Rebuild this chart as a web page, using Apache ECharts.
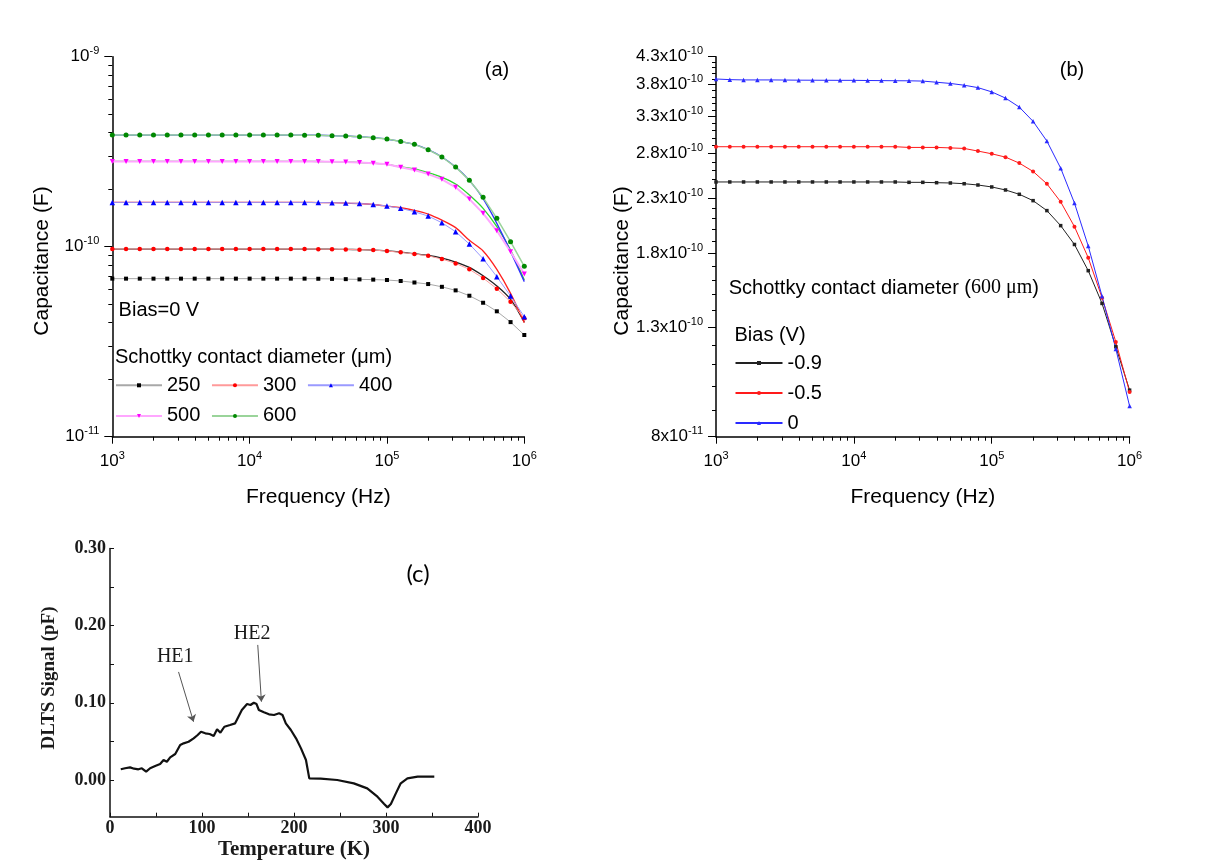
<!DOCTYPE html>
<html>
<head>
<meta charset="utf-8">
<title>Schottky capacitance and DLTS</title>
<script src="https://cdn.jsdelivr.net/npm/echarts@6/dist/echarts.min.js"></script>
<style>
  html, body { margin: 0; padding: 0; background: #fff; }
  #main { width: 1206px; height: 861px; }
</style>
</head>
<body>
<div id="main"></div>
<script>
// measurement frequencies (Hz), 10 points per decade
var freq = [1000, 1259, 1585, 1995, 2512, 3162, 3981, 5012, 6310, 7943,
  10000, 12589, 15849, 19953, 25119, 31623, 39811, 50119, 63096, 79433,
  100000, 125893, 158489, 199526, 251189, 316228, 398107, 501187, 630957, 794328, 1000000];

// panel (a), bias 0 V, capacitance in 1e-10 F, one list per contact diameter
var c250 = [0.679,0.679,0.679,0.679,0.679,0.679,0.679,0.679,0.679,0.679,
  0.679,0.679,0.679,0.679,0.679,0.678,0.677,0.675,0.673,0.671,
  0.668,0.660,0.648,0.636,0.615,0.589,0.552,0.507,0.457,0.401,0.343];
var c300 = [0.972,0.972,0.972,0.972,0.972,0.972,0.972,0.972,0.972,0.972,
  0.972,0.972,0.972,0.972,0.972,0.971,0.970,0.968,0.965,0.960,
  0.949,0.934,0.915,0.896,0.861,0.817,0.760,0.684,0.601,0.513,0.420];
var c400 = [1.711,1.711,1.711,1.711,1.711,1.711,1.711,1.711,1.711,1.711,
  1.711,1.711,1.711,1.711,1.710,1.708,1.704,1.698,1.688,1.668,
  1.637,1.592,1.528,1.450,1.337,1.199,1.033,0.864,0.695,0.550,0.428];
var c500 = [2.812,2.812,2.812,2.812,2.812,2.812,2.812,2.812,2.812,2.812,
  2.812,2.812,2.812,2.812,2.811,2.808,2.802,2.792,2.775,2.750,
  2.713,2.616,2.532,2.412,2.262,2.053,1.781,1.498,1.213,0.941,0.718];
var c600 = [3.870,3.870,3.870,3.870,3.870,3.870,3.870,3.870,3.870,3.870,
  3.870,3.870,3.870,3.870,3.865,3.860,3.840,3.825,3.790,3.750,
  3.687,3.580,3.456,3.240,2.965,2.626,2.235,1.819,1.410,1.062,0.788];

// fitted curves drawn over the points (1e-10 F)
var fitBlack = [0.972,0.972,0.972,0.972,0.972,0.972,0.972,0.972,0.972,0.972,
  0.972,0.972,0.972,0.972,0.972,0.971,0.970,0.968,0.965,0.960,
  0.950,0.936,0.918,0.899,0.871,0.830,0.778,0.703,0.621,0.528,0.400];
var fitRed = [1.711,1.711,1.711,1.711,1.711,1.711,1.711,1.711,1.711,1.711,
  1.711,1.711,1.711,1.711,1.710,1.708,1.704,1.698,1.688,1.668,
  1.637,1.603,1.553,1.486,1.380,1.260,1.080,0.950,0.760,0.568,0.398];
var fitGreen = [2.812,2.812,2.812,2.812,2.812,2.812,2.812,2.812,2.812,2.812,
  2.812,2.812,2.812,2.812,2.811,2.808,2.802,2.792,2.775,2.750,
  2.713,2.630,2.564,2.450,2.318,2.137,1.870,1.592,1.274,0.960,0.668];
var fitBlue = [3.870,3.870,3.870,3.870,3.870,3.870,3.870,3.870,3.870,3.870,
  3.870,3.870,3.870,3.870,3.865,3.860,3.840,3.825,3.790,3.750,
  3.687,3.580,3.456,3.240,2.965,2.626,2.235,1.790,1.327,0.942,0.655];

// panel (b), 600 um contact, capacitance in 1e-10 F per bias
var bM09 = [2.470,2.470,2.470,2.470,2.470,2.470,2.470,2.470,2.470,2.470,
  2.470,2.470,2.470,2.470,2.466,2.466,2.462,2.459,2.451,2.437,
  2.416,2.384,2.339,2.274,2.176,2.036,1.873,1.668,1.443,1.191,0.983];
var bM05 = [2.887,2.887,2.887,2.887,2.887,2.887,2.887,2.887,2.887,2.887,
  2.887,2.887,2.887,2.887,2.878,2.878,2.878,2.872,2.865,2.832,
  2.798,2.757,2.685,2.588,2.450,2.262,2.027,1.766,1.480,1.217,0.975];
var bZero = [3.896,3.885,3.880,3.880,3.880,3.878,3.876,3.875,3.874,3.873,
  3.873,3.870,3.868,3.866,3.865,3.860,3.840,3.820,3.790,3.750,
  3.680,3.580,3.440,3.230,2.960,2.626,2.250,1.860,1.490,1.180,0.916];

// panel (c), DLTS spectrum
var tempK = [11.7,16.4,21.8,26.2,30.9,34.6,39.3,43.6,49.1,54.5,58.2,61.8,65.4,70.9,76.3,80,85.4,90.9,
  95.3,98.9,103.6,108.3,112.7,116.4,120,124.3,130.5,136,139.6,143.3,149,152.7,156.3,159.3,161.8,
  167.3,172.8,178.3,183.8,187.5,191.1,196.6,202.2,207.6,213,216.6,229,247,265,279.6,290.7,298,
  301.7,305.3,310.7,316,323.3,334.4,352.5];
var dlts = [0.0139,0.0152,0.0164,0.0147,0.0139,0.0152,0.0108,0.0152,0.0181,0.0207,0.0259,0.0237,0.0294,
  0.0337,0.0453,0.0475,0.0496,0.054,0.0583,0.0626,0.0605,0.0596,0.057,0.0657,0.0613,0.069,0.0712,
  0.0734,0.082,0.0907,0.0984,0.0972,0.1001,0.0984,0.0907,0.0877,0.0851,0.0842,0.0864,0.0842,0.0734,
  0.0648,0.054,0.041,0.0259,0.0022,0.0017,0,-0.0043,-0.0108,-0.0216,-0.031,-0.0354,-0.031,-0.0173,
  -0.0043,0.0022,0.0043,0.0043];
var peakNames = ['HE1', 'HE2'];
var peakTextAt = [[70.9, 0.160], [154.5, 0.189]];
var peakArrows = [[[74.5, 0.140], [90.8, 0.0755]], [[160.6, 0.175], [164.6, 0.1015]]];

// tick labels
var freqTicks = [1e3, 1e4, 1e5, 1e6];
var capTicksA = [1e-11, 1e-10, 1e-9];
var capTicksB = [8e-11, 1.3e-10, 1.8e-10, 2.3e-10, 2.8e-10, 3.3e-10, 3.8e-10, 4.3e-10];
var tempTicks = [0, 100, 200, 300, 400];
var tempMinor = [0, 50, 100, 150, 200, 250, 300, 350, 400];
var dltsTicks = [0, 0.1, 0.2, 0.3];
var dltsMinor = [0, 0.05, 0.1, 0.15, 0.2, 0.25, 0.3];

var SANS = 'Liberation Sans';
var SERIF = 'Liberation Serif';

function lg(list) { return list.map(function (v) { return Math.log10(v); }); }

var freqMinor = [], capMinorA = [], capMinorB = [];
[1e3, 1e4, 1e5].forEach(function (d) { for (var k = 2; k <= 9; k++) freqMinor.push(k * d); });
[1e-11, 1e-10].forEach(function (d) { for (var k = 2; k <= 9; k++) capMinorA.push(k * d); });
for (var k = 8; k <= 43; k++) capMinorB.push(k * 1e-11);

var supRich = {
  b: { fontSize: 17, fontFamily: SANS, color: '#000', lineHeight: 22 },
  s: { fontSize: 11, fontFamily: SANS, color: '#000', verticalAlign: 'top', lineHeight: 11 }
};
function powLabel(v) {
  return '{b|10}{s|' + Math.round(v) + '}';
}
function sciLabel(v) {
  var e = Math.floor(v + 1e-9);
  var m = Math.round(Math.pow(10, v - e) * 10) / 10;
  return '{b|' + m + 'x10}{s|' + e + '}';
}

function pairs(xs, ys, scale) {
  return xs.map(function (x, i) { return [x, ys[i] * scale]; });
}

var blackLine = { color: '#000', width: 1 };

// three x axes / three y axes per log panel: the log axis carries the data,
// two log-space value axes carry major and minor ticks with labels
function logPanelAxes(grid, dim, lo, hi, major, minor, fmt, name) {
  var base = {
    type: 'log', gridIndex: grid, min: lo, max: hi, logBase: 10,
    axisLine: { onZero: false, lineStyle: { color: '#000', width: 1.5 } },
    axisTick: { show: false }, axisLabel: { show: false }, splitLine: { show: false }
  };
  if (dim === 'x') {
    base.position = 'bottom';
    base.name = name;
    base.nameLocation = 'middle';
    base.nameGap = 50;
    base.nameTextStyle = { fontFamily: SANS, fontSize: 21, color: '#000' };
  } else {
    base.position = 'left';
  }
  var pos = dim === 'x' ? 'bottom' : 'left';
  var majorAxis = {
    type: 'value', gridIndex: grid, position: pos, min: Math.log10(lo), max: Math.log10(hi),
    axisLine: { show: false, onZero: false },
    axisTick: { show: true, length: dim === 'x' ? 7 : 8, customValues: lg(major), lineStyle: blackLine },
    axisLabel: { customValues: lg(major), formatter: fmt, rich: supRich, margin: dim === 'x' ? 14 : 13 },
    splitLine: { show: false }
  };
  var minorAxis = {
    type: 'value', gridIndex: grid, position: pos, min: Math.log10(lo), max: Math.log10(hi),
    axisLine: { show: false, onZero: false },
    axisTick: { show: true, length: 4, customValues: lg(minor), lineStyle: blackLine },
    axisLabel: { show: false },
    splitLine: { show: false }
  };
  return [base, majorAxis, minorAxis];
}

var xAxes = []
  .concat(logPanelAxes(0, 'x', 1e3, 1e6, freqTicks, freqMinor, powLabel, 'Frequency (Hz)'))
  .concat(logPanelAxes(1, 'x', 1e3, 1e6, freqTicks, freqMinor, powLabel, 'Frequency (Hz)'));
var yAxes = []
  .concat(logPanelAxes(0, 'y', 1e-11, 1e-9, capTicksA, capMinorA, powLabel))
  .concat(logPanelAxes(1, 'y', 8e-11, 4.3e-10, capTicksB, capMinorB, sciLabel));

xAxes.push({
  type: 'value', gridIndex: 2, position: 'bottom', min: 0, max: 400,
  name: 'Temperature (K)', nameLocation: 'middle', nameGap: 18,
  nameTextStyle: { fontFamily: SERIF, fontSize: 21, fontWeight: 'bold', color: '#1a1a1a' },
  axisLine: { onZero: false, lineStyle: { color: '#111', width: 1.5 } },
  axisTick: { show: true, inside: true, length: 4, customValues: tempMinor, lineStyle: { color: '#111' } },
  axisLabel: { customValues: tempTicks, margin: 3, fontFamily: SERIF, fontSize: 18, fontWeight: 'bold', color: '#1a1a1a' },
  splitLine: { show: false }
});
yAxes.push({
  type: 'value', gridIndex: 2, position: 'left', min: -0.0475, max: 0.30,
  axisLine: { onZero: false, lineStyle: { color: '#111', width: 1.5 } },
  axisTick: { show: true, inside: true, length: 4, customValues: dltsMinor, lineStyle: { color: '#111' } },
  axisLabel: {
    customValues: dltsTicks, margin: 4, fontFamily: SERIF, fontSize: 18, fontWeight: 'bold', color: '#1a1a1a',
    formatter: function (v) { return v.toFixed(2); }
  },
  splitLine: { show: false }
});

var downTri = 'path://M0,0L10,0L5,9Z';

function dataSeries(name, vals, symbol, size, dot, line, lineWidth) {
  return {
    name: name, type: 'line', xAxisIndex: 0, yAxisIndex: 0,
    data: pairs(freq, vals, 1e-10),
    symbol: symbol, symbolSize: size, z: 3,
    itemStyle: { color: dot },
    lineStyle: { color: line, width: lineWidth }
  };
}
function fitSeries(name, vals, color) {
  return {
    name: name, type: 'line', xAxisIndex: 0, yAxisIndex: 0,
    data: pairs(freq, vals, 1e-10), symbol: 'none', smooth: 0.3, z: 2,
    lineStyle: { color: color, width: 1.3 }
  };
}
function biasSeries(name, vals, symbol, size, color) {
  return {
    name: name, type: 'line', xAxisIndex: 3, yAxisIndex: 3,
    data: pairs(freq, vals, 1e-10),
    symbol: symbol, symbolSize: size,
    itemStyle: { color: color },
    lineStyle: { color: color, width: 1 }
  };
}

var series = [
  fitSeries('fit black', fitBlack, '#222222'),
  fitSeries('fit red', fitRed, '#ff2020'),
  fitSeries('fit green', fitGreen, '#2ed82e'),
  fitSeries('fit blue', fitBlue, '#2f2fff'),
  dataSeries('250', c250, 'rect', 4, '#000000', '#a8a8a8', 1),
  dataSeries('300', c300, 'circle', 4.5, '#ff0000', '#ff9a9a', 1),
  dataSeries('400', c400, 'triangle', 5.5, '#0000ff', '#9a9aff', 1),
  dataSeries('500', c500, downTri, 5, '#ff00ff', '#ffa6ff', 2),
  dataSeries('600', c600, 'circle', 5, '#008800', '#9ad49a', 1.5),
  biasSeries('-0.9', bM09, 'rect', 3.5, '#222222'),
  biasSeries('-0.5', bM05, 'circle', 4, '#ff1a1a'),
  biasSeries('0', bZero, 'triangle', 4.5, '#2a2aff'),
  {
    name: 'DLTS', type: 'line', xAxisIndex: 6, yAxisIndex: 6,
    data: pairs(tempK, dlts, 1), symbol: 'none',
    lineStyle: { color: '#111', width: 2.2 },
    markLine: {
      silent: true, symbol: ['none', 'arrow'], symbolSize: 7,
      label: { show: false },
      lineStyle: { color: '#555', width: 1, type: 'solid' },
      data: peakArrows.map(function (a) { return [{ coord: a[0] }, { coord: a[1] }]; })
    },
    markPoint: {
      silent: true, symbol: 'circle', symbolSize: 1,
      itemStyle: { color: 'rgba(0,0,0,0)' },
      label: { show: true, position: 'inside', formatter: '{b}', fontFamily: SERIF, fontSize: 20, color: '#1a1a1a' },
      data: peakNames.map(function (n, i) { return { name: n, coord: peakTextAt[i] }; })
    }
  }
];

var legendText = { fontFamily: SANS, fontSize: 20, color: '#000', lineHeight: 16 };

function txt(str, x, y, size, extra) {
  var el = {
    type: 'text', x: x, y: y,
    style: { text: str, fontFamily: SANS, fontSize: size, fill: '#000', align: 'left', verticalAlign: 'middle' }
  };
  for (var key in extra) {
    if (key === 'style') Object.assign(el.style, extra.style); else el[key] = extra[key];
  }
  return el;
}

var chartDom = document.getElementById('main');
var myChart = echarts.init(chartDom, null, { renderer: 'canvas' });
var option = {
  animation: false,
  backgroundColor: '#fff',
  textStyle: { fontFamily: SANS },
  grid: [
    { left: 112.3, top: 56.7, width: 412, height: 380, outerBoundsMode: 'none' },
    { left: 716, top: 56.7, width: 413.6, height: 380, outerBoundsMode: 'none' },
    { left: 110, top: 548.4, width: 368, height: 268.3, outerBoundsMode: 'none' }
  ],
  xAxis: xAxes,
  yAxis: yAxes,
  legend: [
    {
      data: ['250', '300', '400', '500', '600'], selectedMode: false,
      orient: 'horizontal', left: 115, top: 375.3, width: 300, padding: 0,
      itemWidth: 46, itemHeight: 5, itemGap: 10.6, textStyle: legendText
    },
    {
      data: ['-0.9', '-0.5', '0'], selectedMode: false,
      orient: 'vertical', left: 734.5, top: 353, padding: 0,
      itemWidth: 47, itemHeight: 5, itemGap: 10, textStyle: legendText
    }
  ],
  graphic: [
    txt('(a)', 497, 70, 20, { style: { align: 'center' } }),
    txt('Bias=0 V', 118.6, 310.7, 20),
    txt('Schottky contact diameter (\u03bcm)', 115, 357.3, 20),
    txt('Capacitance (F)', 42, 261, 21, { rotation: Math.PI / 2, style: { align: 'center' } }),
    txt('(b)', 1072, 70, 20, { style: { align: 'center' } }),
    txt('{a|Schottky contact diameter (}{s|600 \u03bcm}{a|)}', 728.7, 288, 20, {
      style: {
        rich: {
          a: { fontFamily: SANS, fontSize: 20, fill: '#000' },
          s: { fontFamily: SERIF, fontSize: 20, fill: '#000' }
        }
      }
    }),
    txt('Bias (V)', 734.5, 335, 20),
    txt('Capacitance (F)', 622, 261, 21, { rotation: Math.PI / 2, style: { align: 'center' } }),
    txt('(c)', 418, 574, 24, { style: { align: 'center', fontFamily: 'Lato' } }),
    txt('DLTS Signal (pF)', 49, 678, 19, { rotation: Math.PI / 2, style: { align: 'center', fontFamily: SERIF, fontWeight: 'bold', fill: '#1a1a1a' } })
  ],
  series: series
};

option && myChart.setOption(option);
</script>
</body>
</html>
